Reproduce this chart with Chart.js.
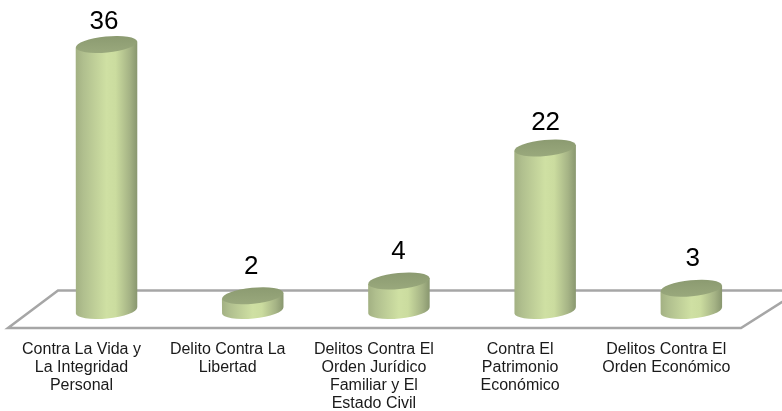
<!DOCTYPE html>
<html>
<head>
<meta charset="utf-8">
<title>Delitos</title>
<script src="https://cdn.jsdelivr.net/npm/chart.js@4"></script>
<style>
  html, body { margin: 0; padding: 0; background: #fff; }
</style>
</head>
<body>
<canvas id="chart" width="782" height="411"></canvas>
<script>
const categories = [
  ["Contra La Vida y", "La Integridad", "Personal"],
  ["Delito Contra La", "Libertad"],
  ["Delitos Contra El", "Orden Jurídico", "Familiar y El", "Estado Civil"],
  ["Contra El", "Patrimonio", "Económico"],
  ["Delitos Contra El", "Orden Económico"]
];
const values = [36, 2, 4, 22, 3];

const TILT = -5.5 * Math.PI / 180;
const RY = 8;

function bodyGradient(ctx, bar) {
  const left = bar.x - bar.width / 2;
  const g = ctx.createLinearGradient(left, 0, left + bar.width, 0);
  g.addColorStop(0, "#a3b183");
  g.addColorStop(0.12, "#b0bf8e");
  g.addColorStop(0.5, "#cfe0a3");
  g.addColorStop(0.65, "#cbdc9f");
  g.addColorStop(0.88, "#a5b385");
  g.addColorStop(1, "#8a9870");
  return g;
}

function capGradient(ctx, bar) {
  const g = ctx.createLinearGradient(0, bar.y - RY, 0, bar.y + RY);
  g.addColorStop(0, "#8c9b71");
  g.addColorStop(1, "#99a87c");
  return g;
}

// floor, cylinders and value labels
const cylinders = {
  id: "cylinders",
  beforeDatasetsDraw(chart) {
    const { ctx, chartArea } = chart;
    const b = chartArea.bottom;
    ctx.save();
    ctx.strokeStyle = "#a6a6a6";
    ctx.lineWidth = 2.5;
    ctx.beginPath();
    ctx.moveTo(8, b + 17.5);
    ctx.lineTo(58, b - 20);
    ctx.lineTo(800, b - 20);
    ctx.lineTo(741, b + 17.5);
    ctx.closePath();
    ctx.stroke();
    ctx.restore();
  },
  afterDatasetsDraw(chart) {
    const { ctx, scales } = chart;
    chart.getDatasetMeta(0).data.forEach((bar, i) => {
      const rx = bar.width / 2 + 0.3;
      const dy = Math.sin(TILT) * rx;
      ctx.save();
      // side wall and rounded bottom
      ctx.fillStyle = bodyGradient(ctx, bar);
      ctx.beginPath();
      ctx.moveTo(bar.x - rx, bar.y - dy);
      ctx.lineTo(bar.x + rx, bar.y + dy);
      ctx.lineTo(bar.x + rx, bar.base + dy);
      ctx.ellipse(bar.x, bar.base, rx, RY, TILT, 0, Math.PI);
      ctx.closePath();
      ctx.fill();
      // top cap
      ctx.fillStyle = capGradient(ctx, bar);
      ctx.beginPath();
      ctx.ellipse(bar.x, bar.y, rx, RY, TILT, 0, Math.PI * 2);
      ctx.fill();
      // value, the label column runs a little flatter than the bars
      ctx.fillStyle = "#000";
      ctx.font = "26px 'Liberation Sans'";
      ctx.textAlign = "center";
      ctx.textBaseline = "alphabetic";
      ctx.fillText(values[i], bar.x - 2.5 + i, scales.y.getPixelForValue(values[i] * 0.974) - 22.5);
      ctx.restore();
    });
  }
};

new Chart(document.getElementById("chart"), {
  type: "bar",
  data: {
    labels: categories,
    datasets: [{
      data: values,
      backgroundColor: "transparent",
      barPercentage: 0.417,
      categoryPercentage: 1
    }]
  },
  options: {
    responsive: false,
    animation: false,
    layout: { padding: { left: 33.4, right: 17.6, top: 14.9, bottom: 0 } },
    plugins: { legend: { display: false }, tooltip: { enabled: false } },
    scales: {
      x: {
        grid: { display: false },
        border: { display: false },
        afterFit(scale) { scale.height = 100.5; },
        ticks: {
          color: "#1a1a1a",
          font: { family: "'Liberation Sans'", size: 16, lineHeight: 18 / 16 },
          padding: 22,
          labelOffset: -25,
          maxRotation: 0,
          autoSkip: false
        }
      },
      y: { display: false, min: 0, max: 40 }
    }
  },
  plugins: [cylinders]
});
</script>
</body>
</html>
